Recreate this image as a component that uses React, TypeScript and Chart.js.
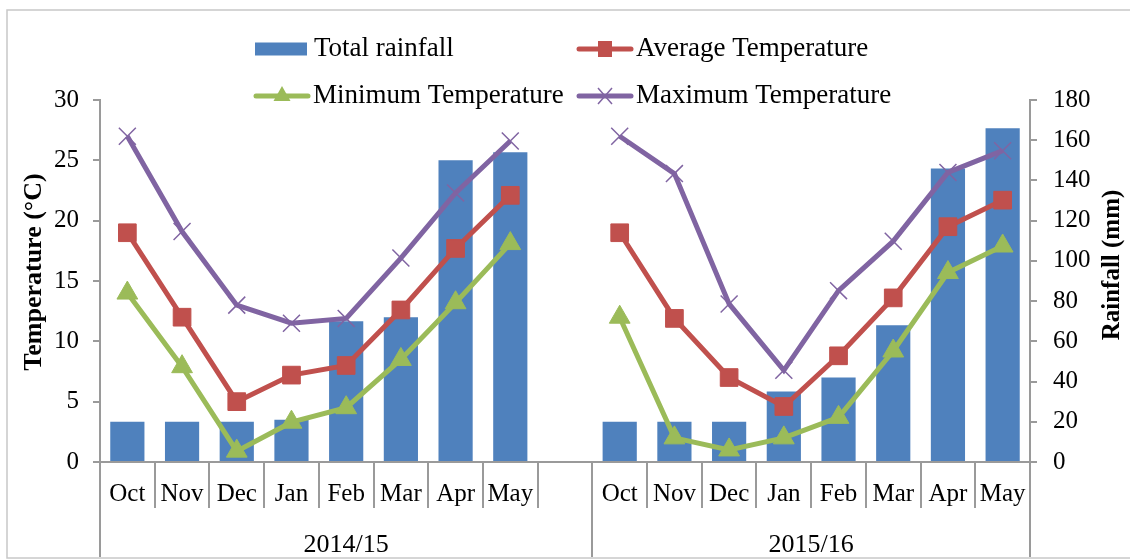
import React, { useEffect, useRef } from 'react';
import { Chart, registerables } from 'chart.js';

Chart.register(...registerables);

// ---- Data ----
const months = ['Oct', 'Nov', 'Dec', 'Jan', 'Feb', 'Mar', 'Apr', 'May'];
const seasons = ['2014/15', '2015/16'];

const rain1415 = [20, 20, 20, 21, 70, 72, 150, 154];
const rain1516 = [20, 20, 20, 35, 42, 68, 146, 166];

const avg1415 = [19, 12, 5, 7.2, 8, 12.6, 17.7, 22.1];
const avg1516 = [19, 11.9, 7, 4.6, 8.8, 13.6, 19.5, 21.7];

const min1415 = [14, 7.9, 0.9, 3.3, 4.5, 8.5, 13.2, 18.1];
const min1516 = [12, 2, 1, 2, 3.7, 9.2, 15.7, 17.9];

const max1415 = [27, 19.1, 13, 11.5, 11.9, 16.9, 22.3, 26.6];
const max1516 = [27, 23.9, 13.1, 7.6, 14.2, 18.3, 24, 25.8];

const tempTicks = { min: 0, max: 30, step: 5 };
const rainTicks = { min: 0, max: 180, step: 20 };

// ---- Styles ----
const FONT = '"Liberation Serif", "Times New Roman", serif';
const BLUE = '#4F81BD';
const RED = '#C0504D';
const GREEN = '#9BBB59';
const PURPLE = '#8064A2';
const AXIS = '#9a9a9a';
const LINE_W = 5;

const join = (a: (number | null)[], b: (number | null)[]) => [...a, null, ...b];

const decorPlugin = {
  id: 'decor',
  afterDraw(chart: any) {
    const { ctx, chartArea, scales } = chart;
    const x = scales.x;
    const n = x.ticks.length;
    const bottom = chartArea.bottom;
    const bx = (i: number) =>
      i === 0 ? x.left : i === n ? x.right : (x.getPixelForValue(i - 1) + x.getPixelForValue(i)) / 2;
    const groupEdge = months.length + 1;

    ctx.save();
    // outer frame
    ctx.strokeStyle = '#c8c8c8';
    ctx.lineWidth = 1.5;
    ctx.strokeRect(7, 10, 1140, 548);

    // category separators
    ctx.strokeStyle = AXIS;
    ctx.lineWidth = 2;
    ctx.beginPath();
    for (let i = 0; i <= n; i++) {
      const px = Math.round(bx(i));
      const long = i === 0 || i === groupEdge || i === n;
      ctx.moveTo(px, bottom);
      ctx.lineTo(px, long ? 557 : 508);
    }
    ctx.stroke();

    // season labels
    ctx.fillStyle = '#000';
    ctx.font = `26px ${FONT}`;
    ctx.textAlign = 'center';
    ctx.textBaseline = 'middle';
    ctx.fillText(seasons[0], (bx(0) + bx(groupEdge)) / 2, 545);
    ctx.fillText(seasons[1], (bx(groupEdge) + bx(n)) / 2, 545);

    // axis titles
    ctx.font = `bold 26px ${FONT}`;
    ctx.save();
    ctx.translate(34, 272);
    ctx.rotate(-Math.PI / 2);
    ctx.fillText('Temperature (°C)', 0, 0);
    ctx.restore();
    ctx.font = `bold 25px ${FONT}`;
    ctx.save();
    ctx.translate(1113, 265);
    ctx.rotate(-Math.PI / 2);
    ctx.fillText('Rainfall (mm)', 0, 0);
    ctx.restore();

    // legend
    ctx.textAlign = 'left';
    ctx.font = `27px ${FONT}`;
    const ds = chart.data.datasets;
    const byLabel = (l: string) => ds.find((d: any) => d.label === l);
    const items = [
      { label: 'Total rainfall', x: 255, y: 49, kind: 'bar' },
      { label: 'Average Temperature', x: 577, y: 49, kind: 'rect' },
      { label: 'Minimum Temperature', x: 254, y: 96, kind: 'tri' },
      { label: 'Maximum Temperature', x: 577, y: 96, kind: 'cross' },
    ];
    for (const it of items) {
      const d = byLabel(it.label);
      const color = d.type === 'line' ? d.borderColor : d.backgroundColor;
      if (it.kind === 'bar') {
        ctx.fillStyle = color;
        ctx.fillRect(it.x, it.y - 6.5, 52, 13);
      } else {
        ctx.strokeStyle = color;
        ctx.lineWidth = LINE_W;
        ctx.lineCap = 'round';
        ctx.beginPath();
        ctx.moveTo(it.x + 2, it.y);
        ctx.lineTo(it.x + 54, it.y);
        ctx.stroke();
        const cx = it.x + 28;
        ctx.fillStyle = color;
        if (it.kind === 'rect') {
          ctx.fillRect(cx - 7, it.y - 8, 14, 16);
        } else if (it.kind === 'tri') {
          ctx.beginPath();
          ctx.moveTo(cx, it.y - 10);
          ctx.lineTo(cx + 8.5, it.y + 5);
          ctx.lineTo(cx - 8.5, it.y + 5);
          ctx.closePath();
          ctx.fill();
        } else {
          ctx.lineWidth = 1.5;
          ctx.lineCap = 'butt';
          ctx.beginPath();
          ctx.moveTo(cx - 7, it.y - 8);
          ctx.lineTo(cx + 7, it.y + 8);
          ctx.moveTo(cx + 7, it.y - 8);
          ctx.lineTo(cx - 7, it.y + 8);
          ctx.stroke();
        }
      }
      ctx.fillStyle = '#000';
      ctx.textBaseline = 'middle';
      ctx.fillText(it.label, it.x + 59, it.y);
    }
    ctx.restore();
  },
};

export default function App() {
  const ref = useRef<HTMLCanvasElement>(null);

  useEffect(() => {
    document.body.style.margin = '0';
    const canvas = ref.current;
    if (!canvas) return;
    const labels = [...months, '', ...months];
    const tickFont = { family: FONT, size: 25 };

    const chart = new Chart(canvas, {
      type: 'bar',
      data: {
        labels,
        datasets: [
          {
            type: 'line',
            label: 'Maximum Temperature',
            data: join(max1415, max1516),
            yAxisID: 'y',
            borderColor: PURPLE,
            backgroundColor: PURPLE,
            borderWidth: LINE_W,
            pointStyle: 'crossRot',
            pointRadius: 12,
            pointBorderWidth: 1.5,
            pointHoverRadius: 12,
            spanGaps: false,
            order: 1,
          } as any,
          {
            type: 'line',
            label: 'Minimum Temperature',
            data: join(min1415, min1516),
            yAxisID: 'y',
            borderColor: GREEN,
            backgroundColor: GREEN,
            borderWidth: LINE_W,
            pointStyle: 'triangle',
            pointRadius: 12,
            pointBorderWidth: 1,
            spanGaps: false,
            order: 2,
          },
          {
            type: 'line',
            label: 'Average Temperature',
            data: join(avg1415, avg1516),
            yAxisID: 'y',
            borderColor: RED,
            backgroundColor: RED,
            borderWidth: LINE_W,
            pointStyle: 'rect',
            pointRadius: 12.5,
            pointBorderWidth: 1,
            spanGaps: false,
            order: 3,
          },
          {
            type: 'bar',
            label: 'Total rainfall',
            data: join(rain1415, rain1516),
            yAxisID: 'y1',
            backgroundColor: BLUE,
            borderWidth: 0,
            barPercentage: 0.625,
            categoryPercentage: 1,
            order: 4,
          },
        ],
      },
      options: {
        responsive: false,
        animation: false,
        devicePixelRatio: 1,
        layout: { padding: { top: 100, left: 0, right: 0, bottom: 0 } },
        plugins: {
          legend: { display: false },
          tooltip: { enabled: false },
        },
        scales: {
          x: {
            offset: true,
            grid: { display: false, drawTicks: false },
            border: { display: true, color: AXIS, width: 2 },
            ticks: { font: tickFont, color: '#000', padding: 17, autoSkip: false, maxRotation: 0 },
            afterFit: (s: any) => {
              s.height = 98;
            },
          },
          y: {
            position: 'left',
            min: tempTicks.min,
            max: tempTicks.max,
            ticks: { stepSize: tempTicks.step, font: tickFont, color: '#000', padding: 14 },
            grid: { drawOnChartArea: false, drawTicks: true, tickLength: 7, color: AXIS, lineWidth: 2 },
            border: { color: AXIS, width: 2 },
            afterFit: (s: any) => {
              s.width = 100;
            },
          },
          y1: {
            position: 'right',
            min: rainTicks.min,
            max: rainTicks.max,
            ticks: { stepSize: rainTicks.step, font: tickFont, color: '#000', padding: 16 },
            grid: { drawOnChartArea: false, drawTicks: true, tickLength: 7, color: AXIS, lineWidth: 2 },
            border: { color: AXIS, width: 2 },
            afterFit: (s: any) => {
              s.width = 100;
            },
          },
        },
      },
      plugins: [decorPlugin],
    });
    return () => chart.destroy();
  }, []);

  return (
    <div style={{ width: 1130, height: 560, background: '#fff' }}>
      <canvas ref={ref} width={1130} height={560} style={{ display: 'block' }} />
    </div>
  );
}
